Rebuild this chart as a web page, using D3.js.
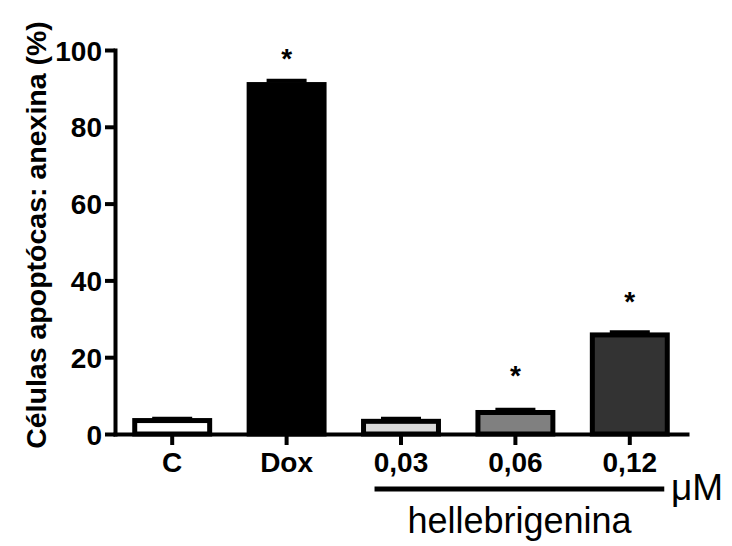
<!DOCTYPE html>
<html lang="en">
<head>
    <meta charset="UTF-8">
    <title>Células apoptócas: anexina</title>
    <style>
        body { margin: 0; background: #fff; }
        text { font-family: Arial, "Liberation Sans", sans-serif; }
    </style>
</head>
<body>
    <script src="https://d3js.org/d3.v7.min.js"></script>
    <script>

        // données
        var categories = ["C", "Dox", "0,03", "0,06", "0,12"];
        var means = [3.5, 91.0, 3.3, 5.6, 25.8];
        var errors = [0.5, 1.0, 0.7, 0.7, 0.7];
        var fills = ["#ffffff", "#000000", "#d9d9d9", "#808080", "#333333"];
        // hauteur des astérisques (en %), null = pas de marque
        var stars = [null, 99.2, null, 16.7, 36.0];
        var yTicks = [0, 20, 40, 60, 80, 100];

        var width = 732;
        var height = 546;

        var svg = d3.select("body").append("svg")
            .attr("width", width)
            .attr("height", height);

        var x = d3.scaleBand()
            .domain(categories)
            .range([115, 687])
            .paddingInner(0.345)
            .paddingOuter(0.1725);

        var y = d3.scaleLinear()
            .domain([0, 100])
            .range([434, 50]);

        // barres
        svg.selectAll("rect.bar")
            .data(categories)
            .enter().append("rect")
            .attr("class", "bar")
            .attr("x", function(d) { return x(d); })
            .attr("width", x.bandwidth())
            .attr("y", function(d, i) { return y(means[i]); })
            .attr("height", function(d, i) { return y(0) - y(means[i]); })
            .attr("fill", function(d, i) { return fills[i]; })
            .attr("stroke", "#000")
            .attr("stroke-width", 5);

        // barres d'erreur (cap)
        svg.selectAll("line.err")
            .data(categories)
            .enter().append("line")
            .attr("class", "err")
            .attr("x1", function(d) { return x(d) + x.bandwidth() / 2 - 20; })
            .attr("x2", function(d) { return x(d) + x.bandwidth() / 2 + 20; })
            .attr("y1", function(d, i) { return y(means[i] + errors[i]); })
            .attr("y2", function(d, i) { return y(means[i] + errors[i]); })
            .attr("stroke", "#000")
            .attr("stroke-width", 4);

        // astérisques
        svg.selectAll("text.star")
            .data(categories.filter(function(d, i) { return stars[i] != null; }))
            .enter().append("text")
            .attr("class", "star")
            .attr("x", function(d) { return x(d) + x.bandwidth() / 2; })
            .attr("y", function(d) { return y(stars[categories.indexOf(d)]) + 15; })
            .attr("text-anchor", "middle")
            .style("font-size", "28px")
            .style("font-weight", "bold")
            .text("*");

        // axe Y
        var yAxis = svg.append("g")
            .attr("transform", "translate(115,0)")
            .call(d3.axisLeft(y).tickValues(yTicks).tickSize(10).tickSizeOuter(0).tickPadding(3));

        // axe X
        var xAxis = svg.append("g")
            .attr("transform", "translate(0,434)")
            .call(d3.axisBottom(x).tickSize(11).tickSizeOuter(0).tickPadding(7));

        [yAxis, xAxis].forEach(function(g) {
            g.select(".domain").attr("stroke-width", 4).attr("stroke-linecap", "square");
            g.selectAll(".tick line").attr("stroke-width", 4);
            g.selectAll(".tick text")
                .attr("fill", "#000")
                .style("font-family", "Arial, 'Liberation Sans', sans-serif")
                .style("font-size", "28px")
                .style("font-weight", "bold");
        });
        yAxis.selectAll(".tick text").attr("dy", "0.36em");

        // titre axe Y
        svg.append("text")
            .attr("transform", "translate(46,235) rotate(-90)")
            .attr("text-anchor", "middle")
            .style("font-size", "28.5px")
            .style("font-weight", "bold")
            .text("Células apoptócas: anexina (%)");

        // trait sous les concentrations
        svg.append("line")
            .attr("x1", x("0,03") + 11)
            .attr("x2", x("0,12") + x.bandwidth() - 3)
            .attr("y1", 489)
            .attr("y2", 489)
            .attr("stroke", "#000")
            .attr("stroke-width", 5);

        svg.append("text")
            .attr("x", 671)
            .attr("y", 500)
            .style("font-size", "37px")
            .text("μM");

        svg.append("text")
            .attr("x", 519.5)
            .attr("y", 533)
            .attr("text-anchor", "middle")
            .style("font-size", "36px")
            .text("hellebrigenina");

    </script>
</body>
</html>
